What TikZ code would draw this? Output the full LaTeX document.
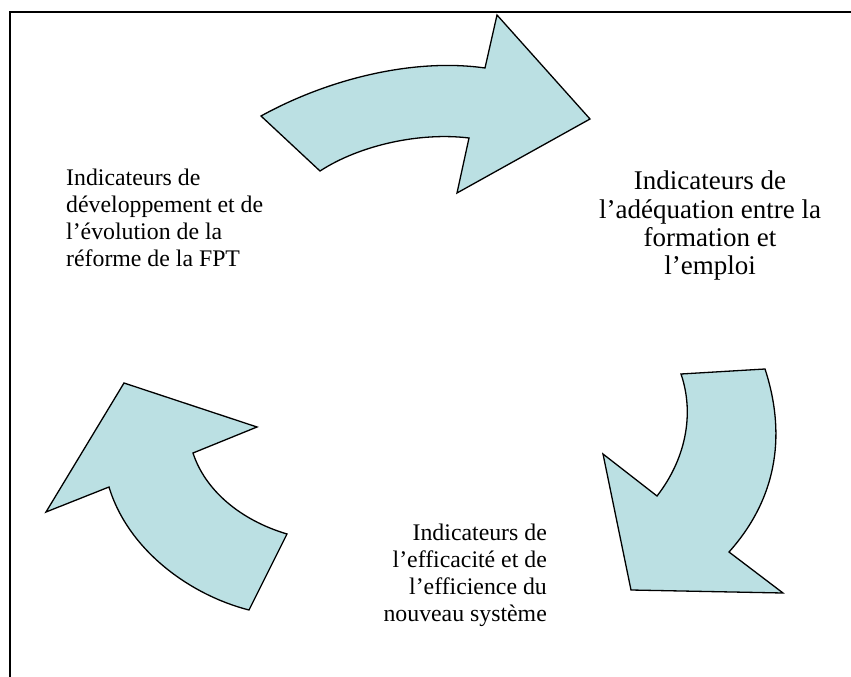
\documentclass[tikz,border=0pt]{standalone}
\usepackage{fontspec}
\setmainfont{Liberation Serif}
\definecolor{arrowfill}{RGB}{187,224,227}
\begin{document}
\begin{tikzpicture}[x=1pt,y=-1pt,
  cyclearrow/.style={fill=arrowfill,draw=black,line width=1.3pt,line join=miter},
  smalllabel/.style={inner sep=0pt,font=\fontsize{23.8}{26.9}\selectfont},
  biglabel/.style={inner sep=0pt,font=\fontsize{27}{28.3}\selectfont}]
\useasboundingbox (0,0) rectangle (851,677);
% frame
\draw[line width=1.8pt] (10,677) -- (10,12) -- (851,12);
% upper arrow, pointing right
\draw[cyclearrow] (261,116) .. controls (330,78) and (415,58) .. (485,68)
  -- (497,15) -- (590,119) -- (457,193) -- (469,138)
  .. controls (420,132) and (360,145) .. (320,171) -- cycle;
% right arrow, pointing down
\draw[cyclearrow] (681,374) -- (765,369)
  .. controls (785,430) and (780,495) .. (729,552)
  -- (783,593) -- (631,590) -- (603,454) -- (657,496)
  .. controls (685,460) and (695,415) .. (681,374) -- cycle;
% left arrow, pointing up
\draw[cyclearrow] (124,383) -- (257,427) -- (193,453)
  .. controls (205,490) and (240,520) .. (287,534)
  -- (249,610)
  .. controls (190,595) and (128,550) .. (109,487)
  -- (46,512) -- cycle;
% labels
\node[smalllabel,anchor=north west,align=left] (dev) at (66,169)
  {Indicateurs de\\développement et de\\l’évolution de la\\réforme de la FPT};
\node[biglabel,anchor=north,align=center] (adeq) at (710,171)
  {Indicateurs de\\l’adéquation entre la\\formation et\\l’emploi};
\node[smalllabel,anchor=north east,align=right] (eff) at (547,524)
  {Indicateurs de\\l’efficacité et de\\l’efficience du\\nouveau système};
\end{tikzpicture}
\end{document}
